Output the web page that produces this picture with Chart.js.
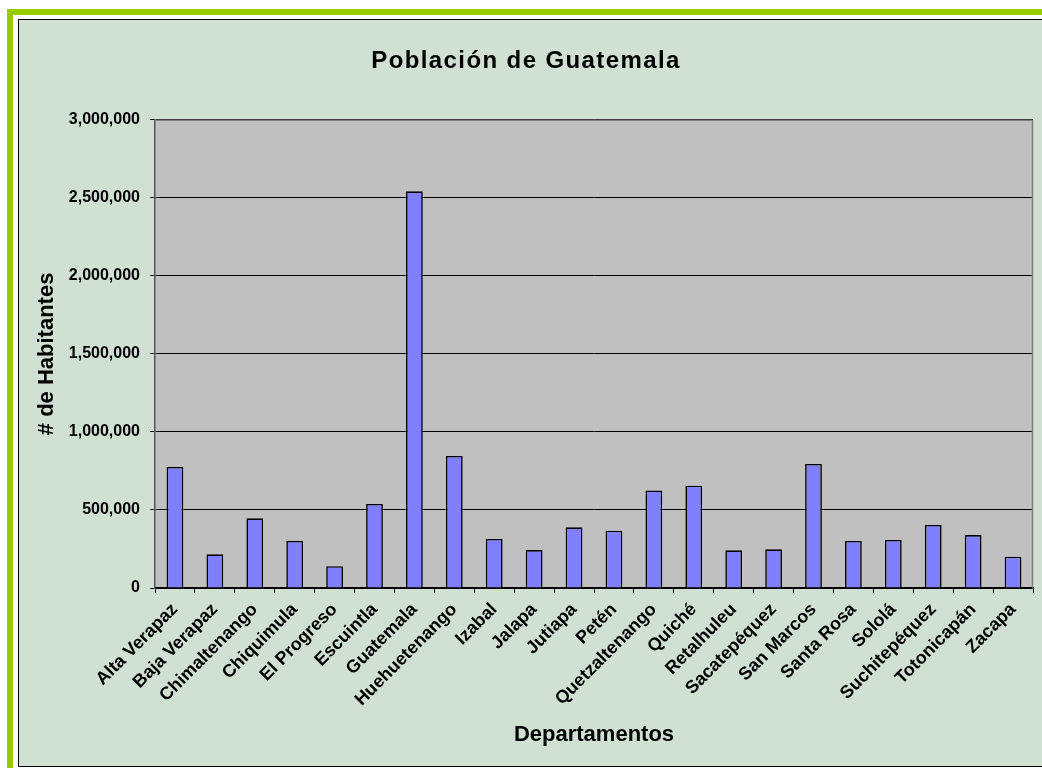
<!DOCTYPE html>
<html>
<head>
<meta charset="utf-8">
<script src="https://cdn.jsdelivr.net/npm/chart.js@4.4.1/dist/chart.umd.min.js"></script>
<style>
  html, body { margin: 0; padding: 0; width: 1042px; height: 768px; overflow: hidden; background: #ffffff; }
  #green { position: absolute; left: 7px; top: 9px; width: 1100px; height: 800px;
           border-left: 6px solid #99cc00; border-top: 6px solid #99cc00; }
  #frame { position: absolute; left: 18px; top: 19px; width: 1100px; height: 746px;
           border: 1.5px solid #000; background: #d0e1d4; }
  #wrap { position: absolute; left: 19px; top: 20px; width: 1023px; height: 746px; }
</style>
</head>
<body>
<div id="green"></div>
<div id="frame"></div>
<div id="wrap"><canvas id="c" width="1023" height="746"></canvas></div>
<script>
const departamentos = ["Alta Verapaz","Baja Verapaz","Chimaltenango","Chiquimula","El Progreso","Escuintla","Guatemala","Huehuetenango","Izabal","Jalapa","Jutiapa","Petén","Quetzaltenango","Quiché","Retalhuleu","Sacatepéquez","San Marcos","Santa Rosa","Sololá","Suchitepéquez","Totonicapán","Zacapa"];
const habitantes = [776246,215915,446133,302485,139490,538746,2541581,846544,314306,242926,389085,366735,624716,655510,241411,248019,794951,301370,307661,403945,339254,200167];
const yTicks = [0,500000,1000000,1500000,2000000,2500000,3000000];
const chartTitle = "Población de Guatemala";
const xTitle = "Departamentos";
const yTitle = "# de Habitantes";

const FONT = "'Liberation Sans', Arial, sans-serif";

const plotBg = {
  id: 'plotBg',
  beforeDraw(chart) {
    const tb = chart.titleBlock;
    if (tb && !tb._patched) {
      const orig = tb.draw;
      tb.draw = function(area) {
        const c = this.ctx; c.save(); c.letterSpacing = '1.4px'; orig.call(this, area); c.restore();
      };
      tb._patched = true;
    }
    const {ctx, chartArea: a} = chart;
    ctx.save();
    ctx.fillStyle = '#c0c0c0';
    ctx.fillRect(a.left, a.top, a.right - a.left, a.bottom - a.top);
    ctx.restore();
  },
  beforeDatasetsDraw(chart) {
    const {ctx, chartArea: a} = chart;
    ctx.save();
    ctx.strokeStyle = '#808080';
    ctx.lineWidth = 1.5;
    ctx.beginPath();
    ctx.moveTo(a.left, a.top + 0.5);
    ctx.lineTo(a.right - 0.5, a.top + 0.5);
    ctx.lineTo(a.right - 0.5, a.bottom);
    ctx.stroke();
    ctx.restore();
  }
};

new Chart(document.getElementById('c'), {
  type: 'bar',
  data: {
    labels: departamentos,
    datasets: [{
      data: habitantes,
      backgroundColor: '#8080ff',
      borderColor: '#000000',
      borderWidth: 1.6,
      barPercentage: 0.42,
      categoryPercentage: 1.0
    }]
  },
  options: {
    responsive: false,
    animation: false,
    layout: { padding: { left: 0, right: 9, top: 0, bottom: 0 } },
    plugins: {
      legend: { display: false },
      tooltip: { enabled: false },
      title: {
        display: true,
        text: chartTitle,
        color: '#000',
        font: { family: FONT, size: 24, weight: 'bold', lineHeight: 1.2 },
        padding: { top: 27, bottom: 44 }
      }
    },
    scales: {
      x: {
        grid: { display: true, drawOnChartArea: false, drawTicks: true, tickLength: 5, color: '#000', offset: true },
        border: { display: true, color: '#000', width: 1.5 },
        ticks: { color: '#000', font: { family: FONT, size: 18, weight: 'bold' }, minRotation: 45, maxRotation: 45, autoSkip: false, padding: 6 },
        title: { display: true, text: xTitle, color: '#000', font: { family: FONT, size: 22, weight: 'bold', lineHeight: 1.2 }, padding: { top: 4, bottom: 18 } },
        afterFit(scale) { scale.height = 178; }
      },
      y: {
        min: 0, max: 3000000,
        afterBuildTicks(scale) { scale.ticks = yTicks.map(v => ({ value: v })); },
        grid: { color: '#000', lineWidth: 1, drawTicks: true, tickLength: 5, tickColor: '#000' },
        border: { display: true, color: '#555', width: 1.5 },
        ticks: {
          color: '#000', padding: 10,
          font: { family: FONT, size: 16, weight: 'bold' },
          callback: v => v.toLocaleString('en-US')
        },
        title: { display: true, text: yTitle, color: '#000', font: { family: FONT, size: 22, weight: 'bold', lineHeight: 1.2 }, padding: { top: 15, bottom: 0 } },
        afterFit(scale) { scale.width = 136; }
      }
    }
  },
  plugins: [plotBg]
});
</script>
</body>
</html>
